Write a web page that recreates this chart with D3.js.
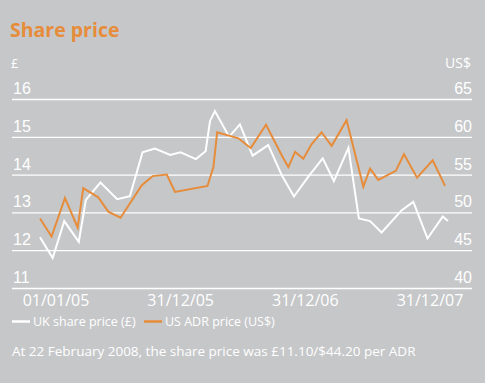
<!DOCTYPE html>
<html>
<head>
<meta charset="utf-8">
<script src="https://cdn.jsdelivr.net/npm/d3@7"></script>
<style>
  body { margin: 0; background: #c6c7c9; }
  svg { display: block; font-family: "Open Sans", "Noto Sans", sans-serif; }
</style>
</head>
<body>
<div id="chart"></div>
<script>
// UK share price (£)
var ukDates = ["2005-01-01","2005-02-04","2005-03-07","2005-04-15","2005-05-04","2005-06-12",
  "2005-07-27","2005-08-30","2005-10-03","2005-11-05","2005-12-16","2006-01-13","2006-02-23",
  "2006-03-21","2006-04-02","2006-04-15","2006-05-23","2006-06-21","2006-07-25","2006-09-05",
  "2006-10-11","2006-11-13","2006-12-21","2007-01-29","2007-02-28","2007-04-08","2007-05-06",
  "2007-06-05","2007-07-06","2007-08-29","2007-09-29","2007-11-06","2007-12-17","2007-12-31"];
var ukPrices = [12.34,11.79,12.77,12.22,13.33,13.79,13.35,13.43,14.59,14.69,14.52,14.59,14.41,
  14.62,15.42,15.68,15.00,15.33,14.50,14.78,13.99,13.42,13.94,14.43,13.83,14.71,12.84,
  12.77,12.47,13.06,13.28,12.31,12.89,12.77];

// US ADR price (US$)
var adrDates = ["2005-01-01","2005-02-01","2005-03-09","2005-04-12","2005-04-27","2005-06-06",
  "2005-07-03","2005-08-05","2005-10-01","2005-10-30","2005-12-07","2005-12-29","2006-03-26",
  "2006-04-11","2006-04-21","2006-06-17","2006-07-20","2006-08-30","2006-10-15","2006-10-29",
  "2006-11-16","2006-12-08","2006-12-30","2007-01-26","2007-02-22","2007-04-03","2007-05-18",
  "2007-06-05","2007-06-27","2007-08-13","2007-09-04","2007-10-09","2007-11-20","2007-12-23"];
var adrPrices = [49.2,46.8,51.9,48.0,53.2,52.0,50.1,49.3,53.6,54.8,55.0,52.7,53.5,56.0,60.6,
  59.8,58.5,61.6,57.2,56.0,58.0,57.1,59.0,60.6,58.8,62.2,53.4,55.8,54.3,55.5,57.7,54.6,
  56.9,53.5];

var gbpTicks = [11, 12, 13, 14, 15, 16];
var usdTicks = [40, 45, 50, 55, 60, 65];
var dateLabels = ["01/01/05", "31/12/05", "31/12/06", "31/12/07"];

var width = 485, height = 383;
var orange = "#e68c3a";
var parse = d3.utcParse("%Y-%m-%d");

var svg = d3.select("#chart").append("svg")
  .attr("width", width)
  .attr("height", height);

svg.append("rect")
  .attr("width", width).attr("height", height)
  .attr("fill", "#c6c7c9");

// SCALES
var x = d3.scaleUtc()
  .domain([parse("2005-01-01"), parse("2007-12-31")])
  .range([40, 448]);
var yGbp = d3.scaleLinear().domain([11, 16]).range([288, 99]);
var yUsd = d3.scaleLinear().domain([40, 65]).range([288, 99]);
var xLabel = d3.scalePoint().domain(dateLabels).range([56, 430]);

// title + units
svg.append("text")
  .attr("x", 10).attr("y", 37)
  .attr("fill", orange)
  .attr("font-size", 19.5)
  .attr("font-weight", 700)
  .text("Share price");

svg.append("text").attr("x", 11).attr("y", 68)
  .attr("fill", "#fff").attr("font-size", 13).text("£");
svg.append("text").attr("x", 471).attr("y", 68)
  .attr("fill", "#fff").attr("font-size", 14).attr("text-anchor", "end").text("US$");

// gridlines (left axis), labels on each side
var gl = svg.append("g")
  .attr("transform", "translate(12,0)")
  .call(d3.axisRight(yGbp).tickValues(gbpTicks).tickSize(460).tickFormat(d3.format("d")));
gl.select(".domain").remove();
gl.selectAll("line").attr("stroke", "#fff").attr("stroke-width", 1.3);
gl.selectAll("text")
  .attr("x", 1).attr("dy", -5.5)
  .attr("text-anchor", "start")
  .attr("fill", "#fff")
  .attr("font-size", 16)
  .attr("font-family", null);

var gr = svg.append("g")
  .attr("transform", "translate(472,0)")
  .call(d3.axisLeft(yUsd).tickValues(usdTicks).tickSize(0).tickFormat(d3.format("d")));
gr.select(".domain").remove();
gr.selectAll("text")
  .attr("x", 0).attr("dy", -5.5)
  .attr("text-anchor", "end")
  .attr("fill", "#fff")
  .attr("font-size", 16)
  .attr("font-family", null);

// x labels
svg.append("g").selectAll("text")
  .data(dateLabels)
  .enter().append("text")
  .attr("x", function(d) { return xLabel(d); })
  .attr("y", 305.5)
  .attr("text-anchor", "middle")
  .attr("fill", "#fff")
  .attr("font-size", 16)
  .text(function(d) { return d; });

// LINES
var ukLine = d3.line()
  .x(function(d, i) { return x(parse(ukDates[i])); })
  .y(function(d) { return yGbp(d); });
var adrLine = d3.line()
  .x(function(d, i) { return x(parse(adrDates[i])); })
  .y(function(d) { return yUsd(d); });

svg.append("path")
  .datum(ukPrices)
  .attr("d", ukLine)
  .attr("fill", "none")
  .attr("stroke", "#fff")
  .attr("stroke-width", 2)
  .attr("stroke-linejoin", "miter");

svg.append("path")
  .datum(adrPrices)
  .attr("d", adrLine)
  .attr("fill", "none")
  .attr("stroke", orange)
  .attr("stroke-width", 2)
  .attr("stroke-linejoin", "miter");

// LEGEND
var legend = [
  { name: "UK share price (£)", color: "#fff", x: 12 },
  { name: "US ADR price (US$)", color: orange, x: 144 }
];
var lg = svg.append("g").selectAll("g")
  .data(legend)
  .enter().append("g")
  .attr("transform", function(d) { return "translate(" + d.x + ",0)"; });
lg.append("line")
  .attr("x1", 0).attr("x2", 18)
  .attr("y1", 321.5).attr("y2", 321.5)
  .attr("stroke", function(d) { return d.color; })
  .attr("stroke-width", 2.5);
lg.append("text")
  .attr("x", 21).attr("y", 326)
  .attr("fill", "#fff")
  .attr("font-size", 12.5)
  .text(function(d) { return d.name; });

// footnote
svg.append("text")
  .attr("x", 12).attr("y", 356)
  .attr("fill", "#fff")
  .attr("font-size", 13.5)
  .text("At 22 February 2008, the share price was £11.10/$44.20 per ADR");
</script>
</body>
</html>
